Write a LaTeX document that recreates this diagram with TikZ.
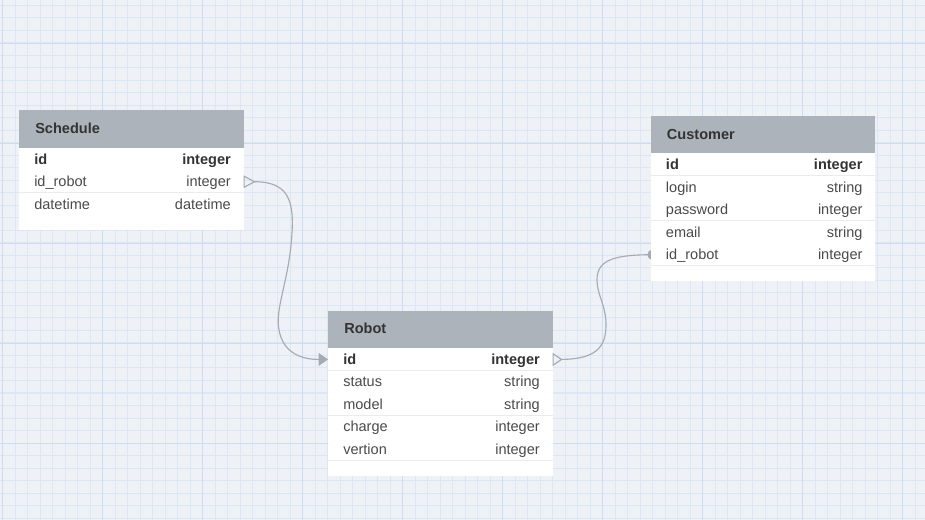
\documentclass[tikz,border=0pt]{standalone}
\usepackage{fontspec}
\setmainfont{Liberation Sans}
\usetikzlibrary{calc,arrows.meta}
\pgfdeclarelayer{bg}
\pgfsetlayers{bg,main}
\newdimen\px \px=0.75pt
\definecolor{bgc}{HTML}{EEF1F5}
\definecolor{gmin}{HTML}{DDE6F4}
\definecolor{gmaj}{HTML}{CCDCF5}
\definecolor{hdr}{HTML}{ADB3BA}
\definecolor{sepc}{HTML}{EBEBEB}
\definecolor{ttl}{HTML}{333333}
\definecolor{fld}{HTML}{4A4A4A}
\definecolor{lnk}{HTML}{A5ABB2}
\tikzset{
  hdrbox/.style={anchor=north west, fill=hdr, minimum width=224.5\px, minimum height=37.5\px, inner sep=0pt, outer sep=0pt},
  rowbox/.style={anchor=north west, fill=white, minimum width=224.5\px, minimum height=22.5\px, inner sep=0pt, outer sep=0pt},
  padbox/.style={anchor=north west, fill=white, minimum width=224.5\px, minimum height=15\px, inner sep=0pt, outer sep=0pt},
  basefont/.style={font=\fontsize{10.9}{13}\selectfont},
  ttltext/.style={anchor=base west, text=ttl, inner sep=0pt, font=\bfseries\fontsize{10.9}{13}\selectfont},
  fname/.style={anchor=base west, text=fld, inner sep=0pt, basefont},
  ftype/.style={anchor=base east, text=fld, inner sep=0pt, basefont},
  kname/.style={anchor=base west, text=ttl, inner sep=0pt, font=\bfseries\fontsize{10.9}{13}\selectfont},
  ktype/.style={anchor=base east, text=ttl, inner sep=0pt, font=\bfseries\fontsize{10.9}{13}\selectfont},
  sepline/.style={draw=sepc, line width=0.9pt},
  gminor/.style={draw=gmin, line width=0.75pt},
  gmajor/.style={draw=gmaj, line width=0.75pt},
  link/.style={draw=lnk, line width=0.85pt},
  crow/.style={draw=lnk, line width=0.85pt, line join=miter},
}
% #1 row name, #2 position, #3 field, #4 type, #5 field style, #6 type style
\newcommand\ertrow[6]{%
  \node[rowbox] (#1) at (#2) {};
  \node[#5] (#1-f) at ($(#1.west)+(15,5)$) {#3};
  \node[#6] (#1-t) at ($(#1.east)+(-12.5,5)$) {#4};
  \draw[sepline] (#1.south west) -- (#1.south east);
}
\newcommand\erthead[3]{%
  \node[hdrbox] (#1) at (#2) {};
  \node[ttltext] (#1-t) at ($(#1.west)+(16,4.5)$) {#3};
}
\begin{document}
\begin{tikzpicture}[x=0.75pt, y=-0.75pt]
\useasboundingbox (0,0) rectangle (925,520);
\begin{pgfonlayer}{bg}
  \fill[bgc] (0,0) rectangle (925,520);
  \foreach \i in {0,...,73} \draw[gminor] ({2.5+12.5*\i},0) -- ({2.5+12.5*\i},520);
  \foreach \i in {0,...,41} \draw[gminor] (0,{5.5+12.5*\i}) -- (925,{5.5+12.5*\i});
  \foreach \i in {0,...,9} \draw[gmajor] ({2.5+100*\i},0) -- ({2.5+100*\i},520);
  \foreach \i in {0,...,4} \draw[gmajor] (0,{43.5+100*\i}) -- (925,{43.5+100*\i});
\end{pgfonlayer}

% Schedule
\erthead{sh}{19,110.5}{Schedule}
\ertrow{sid}{sh.south west}{id}{integer}{kname}{ktype}
\ertrow{sidr}{sid.south west}{id\_robot}{integer}{fname}{ftype}
\ertrow{sdt}{sidr.south west}{datetime}{datetime}{fname}{ftype}
\node[padbox] (spad) at (sdt.south west) {};

% Customer
\erthead{ch}{650.7,116}{Customer}
\ertrow{cid}{ch.south west}{id}{integer}{kname}{ktype}
\ertrow{clog}{cid.south west}{login}{string}{fname}{ftype}
\ertrow{cpw}{clog.south west}{password}{integer}{fname}{ftype}
\ertrow{cem}{cpw.south west}{email}{string}{fname}{ftype}
\ertrow{cidr}{cem.south west}{id\_robot}{integer}{fname}{ftype}
\node[padbox] (cpad) at (cidr.south west) {};

% Robot
\erthead{rh}{328,310.7}{Robot}
\ertrow{rid}{rh.south west}{id}{integer}{kname}{ktype}
\ertrow{rst}{rid.south west}{status}{string}{fname}{ftype}
\ertrow{rmo}{rst.south west}{model}{string}{fname}{ftype}
\ertrow{rch}{rmo.south west}{charge}{integer}{fname}{ftype}
\ertrow{rve}{rch.south west}{vertion}{integer}{fname}{ftype}
\node[padbox] (rpad) at (rve.south west) {};

\begin{pgfonlayer}{bg}
  % Schedule.id_robot -> Robot.id
  \coordinate (c1a) at ($(sidr.east)+(11,0)$);
  \draw[link,-{Triangle[length=7pt,width=9.5pt]}] (c1a)
    .. controls (292,181.7) and (295,205) .. (291,245)
    .. controls (287,285) and (275,310) .. (279,330)
    .. controls (283,352) and (300,359.5) .. (rid.west);
  % Robot.id -> Customer.id_robot
  \coordinate (c2a) at ($(rid.east)+(9,0)$);
  \draw[link] (c2a)
    .. controls (595,359) and (606,348) .. (606,325)
    .. controls (606,305) and (597,295) .. (597,280)
    .. controls (597,262) and (610,254.75) .. (cidr.west);
  \fill[lnk] (cidr.west) ellipse [x radius=2.3pt, y radius=3.4pt];
\end{pgfonlayer}
% open triangle ends, drawn over the table edge
\draw[crow] ($(sidr.east)+(0.6,-5.5)$) -- (c1a) -- ($(sidr.east)+(0.6,5.5)$) -- cycle;
\draw[crow] ($(rid.east)+(0.6,-5.7)$) -- (c2a) -- ($(rid.east)+(0.6,5.7)$) -- cycle;
\end{tikzpicture}
\end{document}
